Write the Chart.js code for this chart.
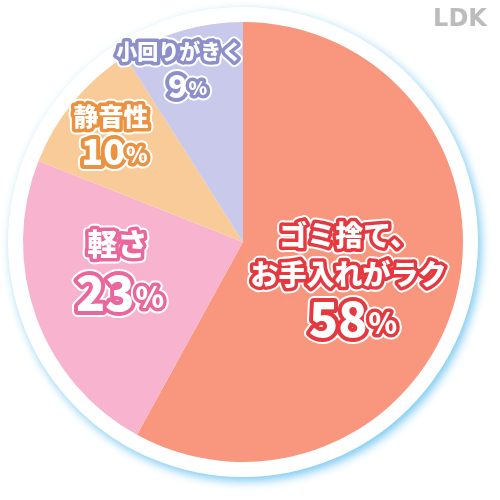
<!DOCTYPE html>
<html>
<head>
<meta charset="utf-8">
<script src="https://cdn.jsdelivr.net/npm/chart.js@4"></script>
<style>
  html, body { margin: 0; padding: 0; background: #fff; }
  #wrap { width: 500px; height: 500px; position: relative; }
</style>
</head>
<body>
<div id="wrap"><canvas id="pie" width="500" height="500"></canvas></div>
<script>
const categories = ['ゴミ捨て、お手入れがラク', '軽さ', '静音性', '小回りがきく'];
const labelLines = [['ゴミ捨て、', 'お手入れがラク'], ['軽さ'], ['静音性'], ['小回りがきく']];
const shares = [58, 23, 10, 9];
const sliceColors = ['#f8967e', '#f8b3cf', '#f8cb98', '#c9c9ec'];
const textColors = ['#e5383f', '#e9679c', '#eb9240', '#8d8fcb'];

const JP = '"Noto Sans CJK JP", "Noto Sans", sans-serif';

// label anchors relative to the pie centre, as fractions of the radius
const labelAnchors = [
  { dx: 0.48, dy: 0.16, name: 28, pct: 48, gap: 39, pctGap: 45, pctDx: 4 },
  { dx: -0.57, dy: 0.12, name: 30, pct: 48, gap: 0, pctGap: 49, pctDx: 2 },
  { dx: -0.6, dy: -0.49, name: 25, pct: 36, gap: 0, pctGap: 35, pctDx: 3 },
  { dx: -0.29, dy: -0.79, name: 21, pct: 32, gap: 0, pctGap: 35, pctDx: 8 }
];

function outlined(ctx, text, x, y, font, color, w) {
  ctx.font = font;
  ctx.lineJoin = 'round';
  ctx.lineWidth = w + 4;
  ctx.strokeStyle = '#ffffff';
  ctx.strokeText(text, x, y);
  ctx.lineWidth = w;
  ctx.strokeStyle = color;
  ctx.strokeText(text, x, y);
  ctx.fillStyle = '#ffffff';
  ctx.fillText(text, x, y);
}

function percentText(ctx, value, x, y, size, color) {
  const numFont = `900 ${size}px ${JP}`;
  const pctFont = `900 ${Math.round(size * 0.6)}px ${JP}`;
  ctx.font = numFont;
  const nw = ctx.measureText(String(value)).width;
  ctx.font = pctFont;
  const pw = ctx.measureText('%').width;
  const left = x - (nw + pw) / 2;
  ctx.textAlign = 'left';
  outlined(ctx, String(value), left, y, numFont, color, 8);
  outlined(ctx, '%', left + nw + 1, y + size * 0.08, pctFont, color, 7);
  ctx.textAlign = 'center';
}

const ringPlugin = {
  id: 'ring',
  beforeDatasetsDraw(chart) {
    const arc = chart.getDatasetMeta(0).data[0];
    if (!arc) return;
    const ctx = chart.ctx;
    ctx.save();
    ctx.beginPath();
    ctx.arc(arc.x, arc.y, arc.outerRadius + 15, 0, Math.PI * 2);
    ctx.shadowColor = 'rgba(110, 195, 240, 0.9)';
    ctx.shadowBlur = 10;
    ctx.shadowOffsetX = 3;
    ctx.shadowOffsetY = 4;
    ctx.fillStyle = '#ffffff';
    ctx.fill();
    ctx.restore();
  }
};

const labelPlugin = {
  id: 'sliceLabels',
  afterDatasetsDraw(chart) {
    const meta = chart.getDatasetMeta(0);
    const ctx = chart.ctx;
    ctx.save();
    ctx.textAlign = 'center';
    ctx.textBaseline = 'middle';
    meta.data.forEach((arc, i) => {
      const a = labelAnchors[i];
      const r = arc.outerRadius;
      const cx = arc.x + a.dx * r;
      let y = arc.y + a.dy * r - a.pctGap / 2 - (labelLines[i].length - 1) * a.gap / 2;
      labelLines[i].forEach(line => {
        outlined(ctx, line, cx, y, `900 ${a.name}px ${JP}`, textColors[i], 7);
        y += a.gap;
      });
      percentText(ctx, shares[i], cx + a.pctDx, y - a.gap + a.pctGap, a.pct, textColors[i]);
    });
    // LDK mark
    ctx.font = '600 24px "DejaVu Sans", sans-serif';
    ctx.fillStyle = '#bcbcbc';
    ctx.textAlign = 'center';
    ctx.fillText('LDK', 460, 20);
    ctx.restore();
  }
};

new Chart(document.getElementById('pie'), {
  type: 'pie',
  data: {
    labels: categories,
    datasets: [{
      data: shares,
      backgroundColor: sliceColors,
      borderWidth: 0
    }]
  },
  options: {
    responsive: false,
    animation: false,
    layout: { padding: { left: 23, right: 37, top: 22, bottom: 38 } },
    plugins: {
      legend: { display: false },
      tooltip: { enabled: false }
    }
  },
  plugins: [ringPlugin, labelPlugin]
});
</script>
</body>
</html>
